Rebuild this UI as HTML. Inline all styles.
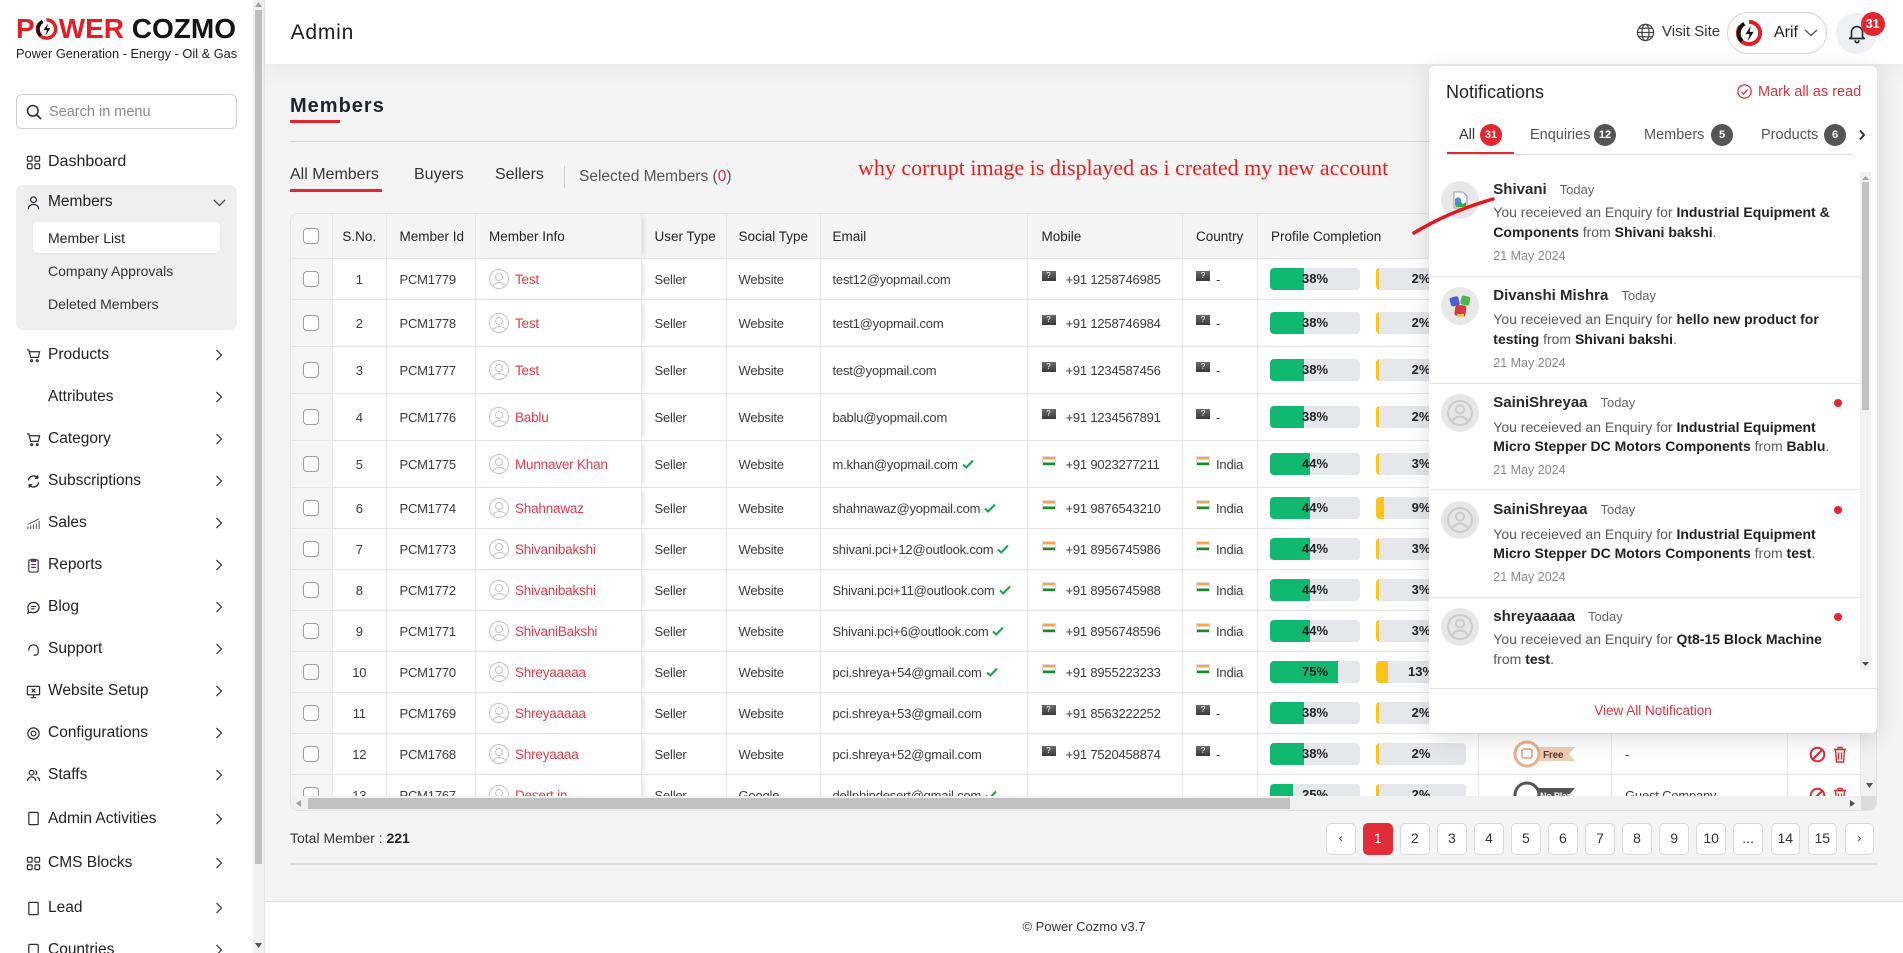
<!DOCTYPE html>
<html><head><meta charset="utf-8">
<style>
*{margin:0;padding:0;box-sizing:border-box}
html,body{width:1903px;height:953px;overflow:hidden}
body{position:relative;background:#f4f4f4;font-family:"Liberation Sans",Arial,sans-serif;color:#222}
.a{position:absolute}
.t{position:absolute;white-space:nowrap}
.mi{position:absolute;left:48px;height:24px;line-height:24px;font-size:15.5px;color:#222;white-space:nowrap}
.si{position:absolute;left:48px;height:24px;line-height:24px;font-size:14px;color:#333;white-space:nowrap}
.ic{position:absolute;left:26px;width:15px;height:15px}
.ch{position:absolute;left:215px;width:8px;height:12px}
.tbl{position:absolute;left:290px;top:213px;width:1587px;height:598px;background:#fff;border:1px solid #e1e1e1;border-radius:8px;overflow:hidden}
.r{position:absolute;left:0;width:1570px;display:flex;border-top:1px solid #e6e6e6;background:#fff}
.r>div{height:100%;display:flex;align-items:center;border-right:1px solid #e9e9e9;white-space:nowrap;overflow:hidden;font-size:13px;color:#3b3b3b;letter-spacing:-.2px;flex:none}
.r.h{top:0;height:44.3px;background:#f4f4f4;border-top:none}
.r.h>div{font-size:13.5px;color:#222;letter-spacing:0;background:#f4f4f4}
.c0{width:42px;padding-left:12px;background:#f5f5f5}
.c1{width:53.5px;justify-content:center}
.c2{width:89.5px;padding-left:13px}
.c3{width:166px;padding-left:13px;box-shadow:4px 0 5px -3px rgba(0,0,0,.15);position:relative;z-index:1;background:#fff}
.c4{width:84.5px;padding-left:12.5px}
.c5{width:94px;padding-left:12px}
.c6{width:207px;padding-left:12px}
.c7{width:155px;padding-left:14px}
.c8{width:75px;padding-left:13.5px}
.c9{width:221.5px;padding-left:12.5px}
.c10{width:133px;justify-content:center}
.c11{width:176px;padding-left:13px}
.c12{width:73px;padding-left:21px}
.cb{display:block;flex:none;width:16px;height:16px;border:1.3px solid #9d9d9d;border-radius:4px;background:#fff}
.av{display:block;flex:none;width:20px;height:20px;border:1.5px solid #c4c4c4;border-radius:50%;position:relative;overflow:hidden}
.av::before{content:"";position:absolute;left:4.5px;top:2.5px;width:6px;height:6px;border:1.5px solid #c4c4c4;border-radius:50%}
.av::after{content:"";position:absolute;left:1.5px;top:11.5px;width:13px;height:10px;border:1.5px solid #c4c4c4;border-radius:50%}
.nm{color:#e63946;margin-left:6px;font-size:13.5px}
.ck{margin-left:4px;flex:none}
.fq{display:block;flex:none;width:14px;height:10px;background:linear-gradient(#6a6a6a,#3a3a3a);position:relative;top:-3px;color:#fff;font-size:8px;line-height:10px;text-align:center;font-style:normal;letter-spacing:0}
.fi{display:block;flex:none;width:14px;height:10px;background:linear-gradient(#f7a44a 0 33%,#fff 33% 66%,#1a8a2a 66%);position:relative;top:-3px;border:0.5px solid #ddd}
.mt{margin-left:10px}
.ct{margin-left:6px}
.pb{position:relative;width:90px;height:22px;background:#e5e7eb;border-radius:4px;overflow:hidden;flex:none}
.pb i{position:absolute;left:0;top:0;bottom:0;background:#10b870}
.pb.y{margin-left:16px}
.pb.y i{background:#fcc419}
.pb b{position:absolute;left:0;right:0;top:0;line-height:22px;text-align:center;font-size:13px;color:#222;letter-spacing:0}
.pg{position:absolute;top:823.3px;width:29.5px;height:31.4px;border:1px solid #d9d9d9;border-radius:5px;background:#fff;text-align:center;line-height:29.4px;font-size:14px;color:#333}
.nl{position:absolute;left:64.3px;height:20px;line-height:20px;white-space:nowrap;font-size:14px;color:#5a5a5a}
.nl b{color:#222}
.nn{position:absolute;left:64.3px;height:20px;line-height:20px;white-space:nowrap;font-size:15px;font-weight:bold;color:#2a2a2a}
.nn span{font-weight:normal;font-size:13px;color:#666;margin-left:13px}
.nd{position:absolute;left:64.3px;height:20px;line-height:20px;white-space:nowrap;font-size:12.5px;color:#8a8a8a}
.na{position:absolute;left:12px;width:38px;height:38px;border-radius:50%;background:#e8e8e8;overflow:hidden}
.dot{position:absolute;left:405px;width:8px;height:8px;border-radius:50%;background:#e3262f}
.sep{position:absolute;left:0;width:431px;height:1px;background:#e8e8e8}
.bd{position:absolute;width:22px;height:22px;border-radius:50%;color:#fff;font-size:11px;font-weight:bold;text-align:center;line-height:22px;top:57.7px}
.tb{position:absolute;top:56.7px;height:24px;line-height:24px;font-size:14.5px;color:#555;white-space:nowrap}
</style></head><body>

<!-- SIDEBAR -->
<div class="a" style="left:0;top:0;width:253px;height:953px;background:#fff"></div>
<div class="a" style="left:253px;top:0;width:11px;height:953px;background:#f1f1f1"></div>
<div class="a" style="left:255px;top:10px;width:7px;height:854px;background:#c1c1c1"></div>
<svg class="a" style="left:254px;top:1px" width="9" height="7"><path d="M1 6h7L4.5 1z" fill="#a3a3a3"/></svg>
<svg class="a" style="left:254px;top:942px" width="9" height="7"><path d="M1 1h7L4.5 6z" fill="#505050"/></svg>
<div class="a" style="left:264px;top:0;width:1px;height:953px;background:#e3e3e3"></div>

<div class="t" style="left:16px;top:14.8px;font-size:28px;line-height:28px;font-weight:bold;display:flex;align-items:center">
<span style="color:#e31e24">P</span><svg width="23" height="24" viewBox="0 0 24 24" style="margin:0 .5px"><path d="M12 2.5A9.5 9.5 0 1 1 4.5 6.2" fill="none" stroke="#e31e24" stroke-width="3.6"/><path d="M8 4A9.5 9.5 0 0 0 6 19" fill="none" stroke="#111" stroke-width="3.6"/><path d="M13.5 6L9 13h3.5l-1.5 6 5-8h-3.5z" fill="#111"/></svg><span style="color:#e31e24">WER</span><span style="color:#151515">&nbsp;COZMO</span></div>
<div class="t" style="left:16px;top:45px;font-size:12.8px;line-height:18px;color:#222">Power Generation - Energy - Oil &amp; Gas</div>

<div class="a" style="left:16px;top:94px;width:221px;height:35px;border:1px solid #cfcfcf;border-radius:6px"></div>
<svg class="a" style="left:26px;top:104px" width="16" height="16" viewBox="0 0 16 16"><circle cx="6.8" cy="6.8" r="5.3" fill="none" stroke="#333" stroke-width="1.6"/><path d="M10.8 10.8L15 15" stroke="#333" stroke-width="1.8"/></svg>
<div class="t" style="left:49px;top:99.7px;line-height:24px;font-size:14.5px;color:#8a8a8a">Search in menu</div>

<svg class="ic" style="top:155px" viewBox="0 0 16 16" fill="none" stroke="#2d2d3a" stroke-width="1.3"><rect x="1.5" y="1.5" width="5" height="5" rx="1"/><rect x="9.5" y="1.5" width="5" height="5" rx="1"/><rect x="1.5" y="9.5" width="5" height="5" rx="1"/><rect x="9.5" y="9.5" width="5" height="5" rx="1"/></svg>
<div class="mi" style="top:150.3px;font-size:16px">Dashboard</div>

<div class="a" style="left:16px;top:185px;width:221px;height:145px;background:#efefef;border-radius:7px"></div>
<svg class="ic" style="top:195px" viewBox="0 0 16 16" fill="none" stroke="#2d2d3a" stroke-width="1.3"><circle cx="8" cy="5" r="3"/><path d="M2.5 15c0-3 2.5-5 5.5-5s5.5 2 5.5 5"/></svg>
<div class="mi" style="top:190.3px">Members</div>
<svg class="a" style="left:213px;top:199px" width="13" height="8"><path d="M1 1l5.5 5.5L12 1" fill="none" stroke="#444" stroke-width="1.3"/></svg>
<div class="a" style="left:33px;top:221.7px;width:187px;height:31px;background:#fff;border-radius:5px;box-shadow:0 1px 2px rgba(0,0,0,.05)"></div>
<div class="si" style="top:225.7px;color:#222">Member List</div>
<div class="si" style="top:258.7px">Company Approvals</div>
<div class="si" style="top:292.3px">Deleted Members</div>

<svg class="ic" style="top:347.5px" viewBox="0 0 16 16" fill="none" stroke="#2d2d3a" stroke-width="1.3"><path d="M1 2h2l2 8h8l1.5-6H4"/><circle cx="6" cy="13.5" r="1"/><circle cx="12" cy="13.5" r="1"/></svg>
<div class="mi" style="top:343px">Products</div>
<div class="mi" style="top:384.7px">Attributes</div>
<svg class="ic" style="top:432px" viewBox="0 0 16 16" fill="none" stroke="#2d2d3a" stroke-width="1.3"><path d="M1 2h2l2 8h8l1.5-6H4"/><circle cx="6" cy="13.5" r="1"/><circle cx="12" cy="13.5" r="1"/></svg>
<div class="mi" style="top:427.3px">Category</div>
<svg class="ic" style="top:473.5px" viewBox="0 0 16 16" fill="none" stroke="#2d2d3a" stroke-width="1.5"><path d="M2.5 7a5.5 5.5 0 0 1 10-2.5M13.5 9a5.5 5.5 0 0 1-10 2.5"/><path d="M12.5 1.5v3h-3M3.5 14.5v-3h3"/></svg>
<div class="mi" style="top:469px">Subscriptions</div>
<svg class="ic" style="top:515.5px" viewBox="0 0 16 16" fill="none" stroke="#555" stroke-width="1.1"><path d="M2 14v-3M5 14v-4M8 14v-5M11 14v-6M14 14V5M2 9l12-6"/></svg>
<div class="mi" style="top:511px">Sales</div>
<svg class="ic" style="top:557.5px" viewBox="0 0 16 16" fill="none" stroke="#4a2d5a" stroke-width="1.3"><rect x="3" y="2" width="10" height="13" rx="1.5"/><path d="M6 1.5h4v2H6zM5.5 7h5M5.5 10h5"/></svg>
<div class="mi" style="top:553.2px">Reports</div>
<svg class="ic" style="top:599.5px" viewBox="0 0 16 16" fill="none" stroke="#2d2d3a" stroke-width="1.3"><path d="M2 8c0-3 2.7-5.5 6-5.5s6 2.5 6 5.5-2.7 5.5-6 5.5c-1 0-2-.2-2.8-.6L2 14l.8-2.8C2.3 10.3 2 9.2 2 8z"/><path d="M5.5 7h5M5.5 9.5h3.5"/></svg>
<div class="mi" style="top:595px">Blog</div>
<svg class="ic" style="top:641.5px" viewBox="0 0 16 16" fill="none" stroke="#2d2d3a" stroke-width="1.3"><path d="M3 9V8a5 5 0 0 1 10 0v1"/><path d="M13 9v2a3 3 0 0 1-3 3H8"/></svg>
<div class="mi" style="top:637px">Support</div>
<svg class="ic" style="top:683.5px" viewBox="0 0 16 16" fill="none" stroke="#2d2d3a" stroke-width="1.3"><rect x="1.5" y="2.5" width="13" height="9" rx="1"/><path d="M5 14.5h6M8 11.5v3M6 5l4 4M10 5l-4 4"/></svg>
<div class="mi" style="top:679px">Website Setup</div>
<svg class="ic" style="top:726px" viewBox="0 0 16 16" fill="none" stroke="#2d2d3a" stroke-width="1.3"><circle cx="8" cy="8" r="2.5"/><circle cx="8" cy="8" r="6"/></svg>
<div class="mi" style="top:721.3px">Configurations</div>
<svg class="ic" style="top:767.5px" viewBox="0 0 16 16" fill="none" stroke="#2d2d3a" stroke-width="1.3"><circle cx="6" cy="5" r="2.5"/><path d="M1.5 14c0-2.5 2-4.5 4.5-4.5s4.5 2 4.5 4.5"/><path d="M10 2.8a2.5 2.5 0 0 1 0 4.5M12 9.8c1.5.6 2.5 2.2 2.5 4.2"/></svg>
<div class="mi" style="top:763px">Staffs</div>
<svg class="ic" style="top:811px" viewBox="0 0 16 16" fill="none" stroke="#2d2d3a" stroke-width="1.3"><rect x="3" y="1.5" width="10" height="13" rx="1"/></svg>
<div class="mi" style="top:806.7px">Admin Activities</div>
<svg class="ic" style="top:855.5px" viewBox="0 0 16 16" fill="none" stroke="#2d2d3a" stroke-width="1.3"><rect x="1.5" y="1.5" width="5" height="5" rx="1"/><rect x="9.5" y="1.5" width="5" height="5" rx="1"/><rect x="1.5" y="9.5" width="5" height="5" rx="1"/><rect x="9.5" y="9.5" width="5" height="5" rx="1"/></svg>
<div class="mi" style="top:851px">CMS Blocks</div>
<svg class="ic" style="top:900.5px" viewBox="0 0 16 16" fill="none" stroke="#2d2d3a" stroke-width="1.3"><rect x="3" y="1.5" width="10" height="13" rx="1"/></svg>
<div class="mi" style="top:896px">Lead</div>
<svg class="ic" style="top:943px" viewBox="0 0 16 16" fill="none" stroke="#2d2d3a" stroke-width="1.3"><rect x="3" y="1.5" width="10" height="13" rx="1"/></svg>
<div class="mi" style="top:938px">Countries</div>

<svg class="ch" style="top:349px"><path d="M1.5 1L6.5 6 1.5 11" stroke="#444" fill="none" stroke-width="1.3"/></svg>
<svg class="ch" style="top:390.7px"><path d="M1.5 1L6.5 6 1.5 11" stroke="#444" fill="none" stroke-width="1.3"/></svg>
<svg class="ch" style="top:433.3px"><path d="M1.5 1L6.5 6 1.5 11" stroke="#444" fill="none" stroke-width="1.3"/></svg>
<svg class="ch" style="top:475px"><path d="M1.5 1L6.5 6 1.5 11" stroke="#444" fill="none" stroke-width="1.3"/></svg>
<svg class="ch" style="top:517px"><path d="M1.5 1L6.5 6 1.5 11" stroke="#444" fill="none" stroke-width="1.3"/></svg>
<svg class="ch" style="top:559.2px"><path d="M1.5 1L6.5 6 1.5 11" stroke="#444" fill="none" stroke-width="1.3"/></svg>
<svg class="ch" style="top:601px"><path d="M1.5 1L6.5 6 1.5 11" stroke="#444" fill="none" stroke-width="1.3"/></svg>
<svg class="ch" style="top:643px"><path d="M1.5 1L6.5 6 1.5 11" stroke="#444" fill="none" stroke-width="1.3"/></svg>
<svg class="ch" style="top:685px"><path d="M1.5 1L6.5 6 1.5 11" stroke="#444" fill="none" stroke-width="1.3"/></svg>
<svg class="ch" style="top:727.3px"><path d="M1.5 1L6.5 6 1.5 11" stroke="#444" fill="none" stroke-width="1.3"/></svg>
<svg class="ch" style="top:769px"><path d="M1.5 1L6.5 6 1.5 11" stroke="#444" fill="none" stroke-width="1.3"/></svg>
<svg class="ch" style="top:812.7px"><path d="M1.5 1L6.5 6 1.5 11" stroke="#444" fill="none" stroke-width="1.3"/></svg>
<svg class="ch" style="top:857px"><path d="M1.5 1L6.5 6 1.5 11" stroke="#444" fill="none" stroke-width="1.3"/></svg>
<svg class="ch" style="top:902px"><path d="M1.5 1L6.5 6 1.5 11" stroke="#444" fill="none" stroke-width="1.3"/></svg>
<svg class="ch" style="top:944px"><path d="M1.5 1L6.5 6 1.5 11" stroke="#444" fill="none" stroke-width="1.3"/></svg>

<!-- HEADER -->
<div class="a" style="left:265px;top:0;width:1638px;height:64px;background:#fff;box-shadow:0 6px 24px rgba(0,0,0,.05)"></div>
<div class="t" style="left:290.6px;top:18px;line-height:30px;font-size:21px;letter-spacing:.8px;color:#1e1e1e">Admin</div>
<svg class="a" style="left:1636px;top:23px" width="19" height="19" viewBox="0 0 20 20" fill="none" stroke="#444" stroke-width="1.3"><circle cx="10" cy="10" r="8.5"/><ellipse cx="10" cy="10" rx="3.8" ry="8.5"/><path d="M1.5 10h17M3 5.5h14M3 14.5h14"/></svg>
<div class="t" style="left:1662px;top:20.3px;line-height:24px;font-size:15px;color:#333">Visit Site</div>
<div class="a" style="left:1727px;top:12px;width:100px;height:42px;border:1px solid #d5d5d5;border-radius:21px;background:#fff"></div>
<svg class="a" style="left:1735px;top:18.5px" width="28" height="28" viewBox="0 0 24 24"><path d="M12 2.5A9.5 9.5 0 1 1 4.5 6.2" fill="none" stroke="#e31e24" stroke-width="3.4"/><path d="M8 4A9.5 9.5 0 0 0 6 19" fill="none" stroke="#111" stroke-width="3.4"/><path d="M13.5 6L9 13h3.5l-1.5 6 5-8h-3.5z" fill="#111"/></svg>
<div class="t" style="left:1774px;top:20.5px;line-height:24px;font-size:16px;color:#222">Arif</div>
<svg class="a" style="left:1804px;top:29px" width="14" height="8"><path d="M1 1l6 5.5L13 1" fill="none" stroke="#555" stroke-width="1.3"/></svg>
<div class="a" style="left:1836px;top:12.7px;width:41px;height:41px;border-radius:50%;background:#eef0f4"></div>
<svg class="a" style="left:1845.5px;top:22px" width="22" height="22" viewBox="0 0 24 24" fill="none" stroke="#2b2b33" stroke-width="1.8" stroke-linecap="round" stroke-linejoin="round"><path d="M6 16V11a6 6 0 0 1 12 0v5l2 2H4z"/><path d="M10 20.5a2 2 0 0 0 4 0"/></svg>
<div class="a" style="left:1860.7px;top:12px;width:24px;height:24px;border-radius:50%;background:#e3262f;color:#fff;font-weight:bold;font-size:12.5px;line-height:24px;text-align:center">31</div>

<!-- CONTENT HEADINGS -->
<div class="t" style="left:290px;top:91.5px;line-height:28px;font-size:20px;font-weight:bold;letter-spacing:1px;color:#1f2230">Members</div>
<div class="a" style="left:290px;top:119.5px;width:50px;height:3px;background:#e32530"></div>
<div class="a" style="left:290px;top:141px;width:1587px;height:1px;background:#d8d8d8"></div>

<div class="t" style="left:290px;top:163px;line-height:24px;font-size:16px;color:#333">All Members</div>
<div class="a" style="left:290px;top:189px;width:92px;height:2.5px;background:#e32530"></div>
<div class="t" style="left:414px;top:163px;line-height:24px;font-size:16px;color:#333">Buyers</div>
<div class="t" style="left:495px;top:163px;line-height:24px;font-size:16px;color:#333">Sellers</div>
<div class="a" style="left:564px;top:166px;width:1px;height:22px;background:#cfcfcf"></div>
<div class="t" style="left:579px;top:165px;line-height:24px;font-size:15.5px;color:#555">Selected Members (<span style="color:#e32530">0</span>)</div>

<div class="t" style="left:858px;top:152.5px;line-height:30px;font-size:22px;font-family:'Liberation Serif',serif;color:#f01a1a">why corrupt image is displayed as i created my new account</div>

<!-- TABLE -->
<div class="tbl">
<div class="r h">
<div class="c0"><i class="cb"></i></div><div class="c1">S.No.</div><div class="c2">Member Id</div><div class="c3" style="background:#f4f4f4">Member Info</div><div class="c4">User Type</div><div class="c5">Social Type</div><div class="c6">Email</div><div class="c7">Mobile</div><div class="c8">Country</div><div class="c9" style="padding-left:13.5px">Profile Completion</div><div class="c10">Plan</div><div class="c11">Company</div><div class="c12">Action</div>
</div>

<div class="r" style="top:44.3px;height:41px"><div class="c0"><i class="cb"></i></div><div class="c1">1</div><div class="c2">PCM1779</div><div class="c3"><i class="av"></i><span class="nm">Test</span></div><div class="c4">Seller</div><div class="c5">Website</div><div class="c6">test12@yopmail.com</div><div class="c7"><i class="fq">?</i><span class="mt">+91 1258746985</span></div><div class="c8"><i class="fq">?</i><span class="ct">-</span></div><div class="c9"><div class="pb"><i style="width:34px"></i><b>38%</b></div><div class="pb y"><i style="width:3px"></i><b>2%</b></div></div><div class="c10"></div><div class="c11"></div><div class="c12"></div></div>

<div class="r" style="top:85.3px;height:47px"><div class="c0"><i class="cb"></i></div><div class="c1">2</div><div class="c2">PCM1778</div><div class="c3"><i class="av"></i><span class="nm">Test</span></div><div class="c4">Seller</div><div class="c5">Website</div><div class="c6">test1@yopmail.com</div><div class="c7"><i class="fq">?</i><span class="mt">+91 1258746984</span></div><div class="c8"><i class="fq">?</i><span class="ct">-</span></div><div class="c9"><div class="pb"><i style="width:34px"></i><b>38%</b></div><div class="pb y"><i style="width:3px"></i><b>2%</b></div></div><div class="c10"></div><div class="c11"></div><div class="c12"></div></div>

<div class="r" style="top:132.3px;height:47px"><div class="c0"><i class="cb"></i></div><div class="c1">3</div><div class="c2">PCM1777</div><div class="c3"><i class="av"></i><span class="nm">Test</span></div><div class="c4">Seller</div><div class="c5">Website</div><div class="c6">test@yopmail.com</div><div class="c7"><i class="fq">?</i><span class="mt">+91 1234587456</span></div><div class="c8"><i class="fq">?</i><span class="ct">-</span></div><div class="c9"><div class="pb"><i style="width:34px"></i><b>38%</b></div><div class="pb y"><i style="width:3px"></i><b>2%</b></div></div><div class="c10"></div><div class="c11"></div><div class="c12"></div></div>

<div class="r" style="top:179.3px;height:47px"><div class="c0"><i class="cb"></i></div><div class="c1">4</div><div class="c2">PCM1776</div><div class="c3"><i class="av"></i><span class="nm">Bablu</span></div><div class="c4">Seller</div><div class="c5">Website</div><div class="c6">bablu@yopmail.com</div><div class="c7"><i class="fq">?</i><span class="mt">+91 1234567891</span></div><div class="c8"><i class="fq">?</i><span class="ct">-</span></div><div class="c9"><div class="pb"><i style="width:34px"></i><b>38%</b></div><div class="pb y"><i style="width:3px"></i><b>2%</b></div></div><div class="c10"></div><div class="c11"></div><div class="c12"></div></div>

<div class="r" style="top:226.3px;height:47px"><div class="c0"><i class="cb"></i></div><div class="c1">5</div><div class="c2">PCM1775</div><div class="c3"><i class="av"></i><span class="nm">Munnaver Khan</span></div><div class="c4">Seller</div><div class="c5">Website</div><div class="c6">m.khan@yopmail.com<svg class="ck" width="12" height="10" viewBox="0 0 12 10"><path d="M1 5.5l3.2 3L11 1.5" fill="none" stroke="#16a34a" stroke-width="2"/></svg></div><div class="c7"><i class="fi"></i><span class="mt">+91 9023277211</span></div><div class="c8"><i class="fi"></i><span class="ct">India</span></div><div class="c9"><div class="pb"><i style="width:39.6px"></i><b>44%</b></div><div class="pb y"><i style="width:3px"></i><b>3%</b></div></div><div class="c10"></div><div class="c11"></div><div class="c12"></div></div>

<div class="r" style="top:273.3px;height:41px"><div class="c0"><i class="cb"></i></div><div class="c1">6</div><div class="c2">PCM1774</div><div class="c3"><i class="av"></i><span class="nm">Shahnawaz</span></div><div class="c4">Seller</div><div class="c5">Website</div><div class="c6">shahnawaz@yopmail.com<svg class="ck" width="12" height="10" viewBox="0 0 12 10"><path d="M1 5.5l3.2 3L11 1.5" fill="none" stroke="#16a34a" stroke-width="2"/></svg></div><div class="c7"><i class="fi"></i><span class="mt">+91 9876543210</span></div><div class="c8"><i class="fi"></i><span class="ct">India</span></div><div class="c9"><div class="pb"><i style="width:39.6px"></i><b>44%</b></div><div class="pb y"><i style="width:8px"></i><b>9%</b></div></div><div class="c10"></div><div class="c11"></div><div class="c12"></div></div>

<div class="r" style="top:314.3px;height:41px"><div class="c0"><i class="cb"></i></div><div class="c1">7</div><div class="c2">PCM1773</div><div class="c3"><i class="av"></i><span class="nm">Shivanibakshi</span></div><div class="c4">Seller</div><div class="c5">Website</div><div class="c6">shivani.pci+12@outlook.com<svg class="ck" width="12" height="10" viewBox="0 0 12 10"><path d="M1 5.5l3.2 3L11 1.5" fill="none" stroke="#16a34a" stroke-width="2"/></svg></div><div class="c7"><i class="fi"></i><span class="mt">+91 8956745986</span></div><div class="c8"><i class="fi"></i><span class="ct">India</span></div><div class="c9"><div class="pb"><i style="width:39.6px"></i><b>44%</b></div><div class="pb y"><i style="width:3px"></i><b>3%</b></div></div><div class="c10"></div><div class="c11"></div><div class="c12"></div></div>

<div class="r" style="top:355.3px;height:41px"><div class="c0"><i class="cb"></i></div><div class="c1">8</div><div class="c2">PCM1772</div><div class="c3"><i class="av"></i><span class="nm">Shivanibakshi</span></div><div class="c4">Seller</div><div class="c5">Website</div><div class="c6">Shivani.pci+11@outlook.com<svg class="ck" width="12" height="10" viewBox="0 0 12 10"><path d="M1 5.5l3.2 3L11 1.5" fill="none" stroke="#16a34a" stroke-width="2"/></svg></div><div class="c7"><i class="fi"></i><span class="mt">+91 8956745988</span></div><div class="c8"><i class="fi"></i><span class="ct">India</span></div><div class="c9"><div class="pb"><i style="width:39.6px"></i><b>44%</b></div><div class="pb y"><i style="width:3px"></i><b>3%</b></div></div><div class="c10"></div><div class="c11"></div><div class="c12"></div></div>

<div class="r" style="top:396.3px;height:41px"><div class="c0"><i class="cb"></i></div><div class="c1">9</div><div class="c2">PCM1771</div><div class="c3"><i class="av"></i><span class="nm">ShivaniBakshi</span></div><div class="c4">Seller</div><div class="c5">Website</div><div class="c6">Shivani.pci+6@outlook.com<svg class="ck" width="12" height="10" viewBox="0 0 12 10"><path d="M1 5.5l3.2 3L11 1.5" fill="none" stroke="#16a34a" stroke-width="2"/></svg></div><div class="c7"><i class="fi"></i><span class="mt">+91 8956748596</span></div><div class="c8"><i class="fi"></i><span class="ct">India</span></div><div class="c9"><div class="pb"><i style="width:39.6px"></i><b>44%</b></div><div class="pb y"><i style="width:3px"></i><b>3%</b></div></div><div class="c10"></div><div class="c11"></div><div class="c12"></div></div>

<div class="r" style="top:437.3px;height:41px"><div class="c0"><i class="cb"></i></div><div class="c1">10</div><div class="c2">PCM1770</div><div class="c3"><i class="av"></i><span class="nm">Shreyaaaaa</span></div><div class="c4">Seller</div><div class="c5">Website</div><div class="c6">pci.shreya+54@gmail.com<svg class="ck" width="12" height="10" viewBox="0 0 12 10"><path d="M1 5.5l3.2 3L11 1.5" fill="none" stroke="#16a34a" stroke-width="2"/></svg></div><div class="c7"><i class="fi"></i><span class="mt">+91 8955223233</span></div><div class="c8"><i class="fi"></i><span class="ct">India</span></div><div class="c9"><div class="pb"><i style="width:67.5px"></i><b>75%</b></div><div class="pb y"><i style="width:12px"></i><b>13%</b></div></div><div class="c10"></div><div class="c11"></div><div class="c12"></div></div>

<div class="r" style="top:478.3px;height:41px"><div class="c0"><i class="cb"></i></div><div class="c1">11</div><div class="c2">PCM1769</div><div class="c3"><i class="av"></i><span class="nm">Shreyaaaaa</span></div><div class="c4">Seller</div><div class="c5">Website</div><div class="c6">pci.shreya+53@gmail.com</div><div class="c7"><i class="fq">?</i><span class="mt">+91 8563222252</span></div><div class="c8"><i class="fq">?</i><span class="ct">-</span></div><div class="c9"><div class="pb"><i style="width:34px"></i><b>38%</b></div><div class="pb y"><i style="width:3px"></i><b>2%</b></div></div><div class="c10"></div><div class="c11"></div><div class="c12"></div></div>

<div class="r" style="top:519.3px;height:41px"><div class="c0"><i class="cb"></i></div><div class="c1">12</div><div class="c2">PCM1768</div><div class="c3"><i class="av"></i><span class="nm">Shreyaaaa</span></div><div class="c4">Seller</div><div class="c5">Website</div><div class="c6">pci.shreya+52@gmail.com</div><div class="c7"><i class="fq">?</i><span class="mt">+91 7520458874</span></div><div class="c8"><i class="fq">?</i><span class="ct">-</span></div><div class="c9"><div class="pb"><i style="width:34px"></i><b>38%</b></div><div class="pb y"><i style="width:3px"></i><b>2%</b></div></div><div class="c10"><svg width="64" height="30" viewBox="0 0 64 30"><path d="M22 8h40l-6 7 6 7H22z" fill="#f2cdb5"/><circle cx="14" cy="15" r="12" fill="#fff" stroke="#e6b18c" stroke-width="3"/><rect x="9" y="10" width="10" height="9" rx="2" fill="none" stroke="#d9a07a" stroke-width="1.5"/><text x="30" y="19" font-size="10" font-weight="bold" fill="#5a3a2a" font-family="Liberation Sans, sans-serif">Free</text></svg></div><div class="c11">-</div><div class="c12"><svg width="17" height="17" viewBox="0 0 17 17"><circle cx="8.5" cy="8.5" r="6.8" fill="none" stroke="#e3262f" stroke-width="2"/><path d="M4 13L13 4" stroke="#e3262f" stroke-width="2"/></svg><svg width="14" height="17" viewBox="0 0 14 17" style="margin-left:7px" fill="none" stroke="#e3262f" stroke-width="1.4"><path d="M1 3.5h12M5 3.5V1.5h4v2M2.5 3.5l1 12.5h7l1-12.5M5.5 6.5v7M8.5 6.5v7"/></svg></div></div>

<div class="r" style="top:560.3px;height:41px"><div class="c0"><i class="cb"></i></div><div class="c1">13</div><div class="c2">PCM1767</div><div class="c3"><i class="av"></i><span class="nm">Desert in</span></div><div class="c4">Seller</div><div class="c5">Google</div><div class="c6">dellphindesert@gmail.com<svg class="ck" width="12" height="10" viewBox="0 0 12 10"><path d="M1 5.5l3.2 3L11 1.5" fill="none" stroke="#16a34a" stroke-width="2"/></svg></div><div class="c7">--</div><div class="c8">--</div><div class="c9"><div class="pb"><i style="width:22.5px"></i><b>25%</b></div><div class="pb y"><i style="width:3px"></i><b>2%</b></div></div><div class="c10"><svg width="64" height="30" viewBox="0 0 64 30"><path d="M22 8h40l-6 7 6 7H22z" fill="#555"/><circle cx="14" cy="15" r="12" fill="#fff" stroke="#555" stroke-width="3"/><text x="27" y="19" font-size="9" font-weight="bold" fill="#fff" font-family="Liberation Sans, sans-serif">No Plan</text></svg></div><div class="c11">Guest Company</div><div class="c12"><svg width="17" height="17" viewBox="0 0 17 17"><circle cx="8.5" cy="8.5" r="6.8" fill="none" stroke="#e3262f" stroke-width="2"/><path d="M4 13L13 4" stroke="#e3262f" stroke-width="2"/></svg><svg width="14" height="17" viewBox="0 0 14 17" style="margin-left:7px" fill="none" stroke="#e3262f" stroke-width="1.4"><path d="M1 3.5h12M5 3.5V1.5h4v2M2.5 3.5l1 12.5h7l1-12.5M5.5 6.5v7M8.5 6.5v7"/></svg></div></div>

<!-- scrollbars -->
<div class="a" style="left:1570px;top:0;width:17px;height:581.5px;background:#f1f1f1;z-index:3"></div>
<svg class="a" style="left:1574px;top:568px;z-index:4" width="9" height="7"><path d="M1 1h7L4.5 6z" fill="#505050"/></svg>
<div class="a" style="left:0;top:581.5px;width:1570px;height:15px;background:#f1f1f1;z-index:3"></div>
<div class="a" style="left:17px;top:583.5px;width:982px;height:11px;background:#c1c1c1;z-index:4"></div>
<svg class="a" style="left:4px;top:585px;z-index:4" width="7" height="9"><path d="M6 1v7L1 4.5z" fill="#a3a3a3"/></svg>
<svg class="a" style="left:1558px;top:585px;z-index:4" width="7" height="9"><path d="M1 1v7L6 4.5z" fill="#505050"/></svg>
<div class="a" style="left:1570px;top:581.5px;width:17px;height:15px;background:#dcdcdc;z-index:3"></div>
</div>

<!-- total + pagination -->
<div class="t" style="left:290px;top:826px;line-height:24px;font-size:14px;color:#333">Total Member : <b style="color:#222">221</b></div>
<div class="pg" style="left:1326px;font-size:12px">‹</div>
<div class="pg" style="left:1363px;background:#e32c3a;border-color:#e32c3a;color:#fff">1</div>
<div class="pg" style="left:1400px">2</div>
<div class="pg" style="left:1437.1px">3</div>
<div class="pg" style="left:1474.2px">4</div>
<div class="pg" style="left:1511.2px">5</div>
<div class="pg" style="left:1548.2px">6</div>
<div class="pg" style="left:1585.3px">7</div>
<div class="pg" style="left:1622.3px">8</div>
<div class="pg" style="left:1659.4px">9</div>
<div class="pg" style="left:1696.4px">10</div>
<div class="pg" style="left:1733.4px">...</div>
<div class="pg" style="left:1770.5px">14</div>
<div class="pg" style="left:1807.5px">15</div>
<div class="pg" style="left:1844.6px;font-size:12px">›</div>
<div class="a" style="left:290px;top:862.5px;width:1587px;height:2.5px;background:#dcdfe3"></div>

<!-- footer -->
<div class="a" style="left:265px;top:901px;width:1638px;height:52px;background:#fff;border-top:1px solid #e0e0e0;text-align:center;line-height:49px;font-size:13px;color:#333">© Power Cozmo v3.7</div>

<!-- NOTIFICATION PANEL -->
<div class="a" style="left:1429px;top:66px;width:448px;height:667px;background:#fff;border-radius:6px;box-shadow:0 6px 24px rgba(0,0,0,.13);z-index:10">
<div class="t" style="left:17px;top:13.7px;line-height:24px;font-size:18px;color:#222">Notifications</div>
<svg class="a" style="left:308px;top:18.2px" width="15" height="15" viewBox="0 0 15 15"><circle cx="7.5" cy="7.5" r="6.6" fill="none" stroke="#e0303a" stroke-width="1.3"/><path d="M4.3 7.8l2.2 2.2 4.2-4.5" fill="none" stroke="#e0303a" stroke-width="1.3"/></svg>
<div class="t" style="left:329px;top:13.7px;line-height:24px;font-size:14.5px;color:#e0303a">Mark all as read</div>

<div class="tb" style="left:30px;color:#333">All</div>
<div class="bd" style="left:51px;background:#e3262f">31</div>
<div class="tb" style="left:101px">Enquiries</div>
<div class="bd" style="left:165px;background:#555">12</div>
<div class="tb" style="left:215px">Members</div>
<div class="bd" style="left:282px;background:#555">5</div>
<div class="tb" style="left:332px">Products</div>
<div class="bd" style="left:395px;background:#555">6</div>
<svg class="a" style="left:429px;top:63px" width="8" height="12"><path d="M2 1.5L6 6 2 10.5" fill="none" stroke="#333" stroke-width="2"/></svg>
<div class="a" style="left:17.7px;top:85.5px;width:67.3px;height:2.5px;background:#e3262f"></div>
<div class="a" style="left:17.7px;top:88px;width:405px;height:1px;background:#ddd"></div>

<div class="a" style="left:0;top:105.7px;width:448px;height:498.3px;overflow:hidden">
 <!-- item 1 -->
 <div class="na" style="top:9.3px"><svg width="38" height="38" viewBox="0 0 38 38"><path d="M13 11h9l4 4v12H13z" fill="#fff" stroke="#9a9a9a" stroke-width="1"/><path d="M14 26l5-6 3 3 3-2v5z" fill="#3aa84a"/><path d="M14 18l3-2 3 2v3l-6 4z" fill="#4a8fd8"/></svg></div>
 <div class="nn" style="top:8.3px">Shivani<span>Today</span></div>
 <div class="nl" style="top:30.6px">You receieved an Enquiry for <b>Industrial Equipment &amp;</b></div>
 <div class="nl" style="top:50.6px"><b>Components</b> from <b>Shivani bakshi</b>.</div>
 <div class="nd" style="top:74.3px">21 May 2024</div>
 <div class="sep" style="top:104px"></div>
 <!-- item 2 -->
 <div class="na" style="top:115.3px"><svg width="38" height="38" viewBox="0 0 38 38"><rect x="9" y="10" width="9" height="9" rx="2" fill="#4a5fd0" transform="rotate(-15 13 14)"/><rect x="20" y="9" width="9" height="9" rx="2" fill="#4cb84c" transform="rotate(12 24 13)"/><rect x="14" y="18" width="11" height="11" rx="2" fill="#d83a3a" transform="rotate(8 19 23)"/><rect x="16" y="27" width="7" height="3" fill="#e8c85a"/></svg></div>
 <div class="nn" style="top:114.3px">Divanshi Mishra<span>Today</span></div>
 <div class="nl" style="top:137.6px">You receieved an Enquiry for <b>hello new product for</b></div>
 <div class="nl" style="top:157.6px"><b>testing</b> from <b>Shivani bakshi</b>.</div>
 <div class="nd" style="top:181px">21 May 2024</div>
 <div class="sep" style="top:211px"></div>
 <!-- item 3 -->
 <div class="na" style="top:222.3px;background:#e6e6e6"><svg width="38" height="38" viewBox="0 0 38 38" fill="none" stroke="#cbcbcb" stroke-width="2"><circle cx="19" cy="19" r="12"/><circle cx="19" cy="15.5" r="4"/><path d="M11.5 27c1.8-3 4.4-4.5 7.5-4.5s5.7 1.5 7.5 4.5"/></svg></div>
 <div class="nn" style="top:221.6px">SainiShreyaa<span>Today</span></div>
 <div class="dot" style="top:227.6px"></div>
 <div class="nl" style="top:245px">You receieved an Enquiry for <b>Industrial Equipment</b></div>
 <div class="nl" style="top:264px"><b>Micro Stepper DC Motors Components</b> from <b>Bablu</b>.</div>
 <div class="nd" style="top:288.3px">21 May 2024</div>
 <div class="sep" style="top:317.6px"></div>
 <!-- item 4 -->
 <div class="na" style="top:329.3px;background:#e6e6e6"><svg width="38" height="38" viewBox="0 0 38 38" fill="none" stroke="#cbcbcb" stroke-width="2"><circle cx="19" cy="19" r="12"/><circle cx="19" cy="15.5" r="4"/><path d="M11.5 27c1.8-3 4.4-4.5 7.5-4.5s5.7 1.5 7.5 4.5"/></svg></div>
 <div class="nn" style="top:328.3px">SainiShreyaa<span>Today</span></div>
 <div class="dot" style="top:334.3px"></div>
 <div class="nl" style="top:352px">You receieved an Enquiry for <b>Industrial Equipment</b></div>
 <div class="nl" style="top:371px"><b>Micro Stepper DC Motors Components</b> from <b>test</b>.</div>
 <div class="nd" style="top:395px">21 May 2024</div>
 <div class="sep" style="top:425px"></div>
 <!-- item 5 -->
 <div class="na" style="top:436.3px;background:#e6e6e6"><svg width="38" height="38" viewBox="0 0 38 38" fill="none" stroke="#cbcbcb" stroke-width="2"><circle cx="19" cy="19" r="12"/><circle cx="19" cy="15.5" r="4"/><path d="M11.5 27c1.8-3 4.4-4.5 7.5-4.5s5.7 1.5 7.5 4.5"/></svg></div>
 <div class="nn" style="top:435.3px">shreyaaaaa<span>Today</span></div>
 <div class="dot" style="top:441.3px"></div>
 <div class="nl" style="top:457.6px">You receieved an Enquiry for <b>Qt8-15 Block Machine</b></div>
 <div class="nl" style="top:477.6px">from <b>test</b>.</div>
 <!-- scrollbar -->
 <div class="a" style="left:431px;top:0;width:11px;height:498.3px;background:#f1f1f1"></div>
 <div class="a" style="left:433px;top:10px;width:7px;height:228.3px;background:#c1c1c1"></div>
 <svg class="a" style="left:432px;top:3px" width="9" height="6"><path d="M1 5h7L4.5 1z" fill="#a3a3a3"/></svg>
 <svg class="a" style="left:432px;top:489px" width="9" height="6"><path d="M1 1h7L4.5 5z" fill="#505050"/></svg>
</div>
<div class="a" style="left:0;top:621.7px;width:448px;height:1px;background:#e5e5e5"></div>
<div class="t" style="left:0;width:448px;top:634.7px;line-height:20px;font-size:13.5px;color:#e0303a;text-align:center">View All Notification</div>
</div>

<!-- annotation stroke -->
<svg class="a" style="left:0;top:0;z-index:20;pointer-events:none" width="1903" height="953"><path d="M1414 233 Q1448 212 1493 199" fill="none" stroke="#e8141c" stroke-width="3.5" stroke-linecap="round"/></svg>
</body></html>
